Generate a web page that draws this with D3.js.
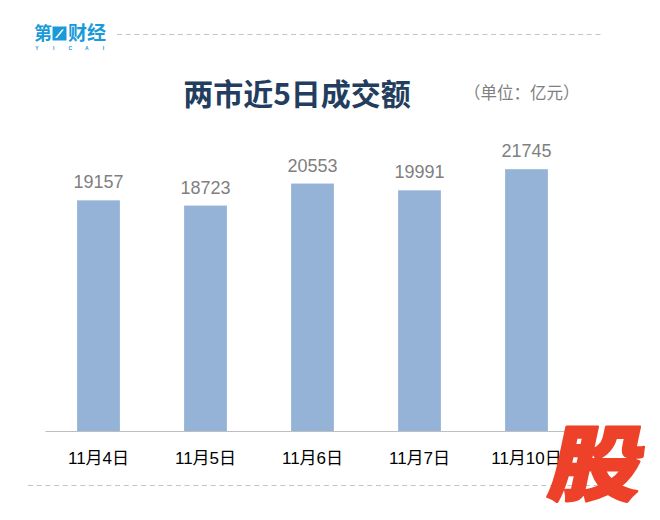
<!DOCTYPE html>
<html>
<head>
<meta charset="utf-8">
<script src="https://cdn.jsdelivr.net/npm/d3@7"></script>
<style>
  html, body { margin: 0; padding: 0; background: #fff; }
  svg { display: block; }
</style>
</head>
<body>
<div id="chart"></div>
<script>
const width = 660;
const height = 520;

// data
const dates = ["11月4日", "11月5日", "11月6日", "11月7日", "11月10日"];
const turnover = [19157, 18723, 20553, 19991, 21745];

const title = "两市近5日成交额";
const unit = "（单位：亿元）";

const svg = d3.select("#chart").append("svg")
    .attr("xmlns", "http://www.w3.org/2000/svg")
    .attr("width", width)
    .attr("height", height);

const cjk = "'Noto Sans CJK SC', 'Noto Sans', sans-serif";
const latin = "'Liberation Sans', Arial, 'Noto Sans CJK SC', sans-serif";

// scales
const x = d3.scaleBand()
    .domain(dates)
    .range([45, 580])
    .paddingInner(0.6)
    .paddingOuter(0.3);

const y = d3.scaleLinear()
    .domain([0, 25000])
    .range([431, 130]);

// dashed rules top and bottom
svg.append("line")
    .attr("x1", 117).attr("x2", 602)
    .attr("y1", 34.5).attr("y2", 34.5)
    .attr("stroke", "#c4c4c4")
    .attr("stroke-dasharray", "5,3.7");

svg.append("line")
    .attr("x1", 28).attr("x2", 602)
    .attr("y1", 485.5).attr("y2", 485.5)
    .attr("stroke", "#c4c4c4")
    .attr("stroke-dasharray", "5,3.7");

// logo
const logo = svg.append("g").attr("fill", "#1a9ad9");
logo.append("text")
    .attr("x", 34).attr("y", 39.5)
    .attr("font-family", cjk).attr("font-weight", 700).attr("font-size", 18)
    .text("第");
logo.append("rect")
    .attr("x", 52.5).attr("y", 26.5).attr("width", 14).attr("height", 14);
logo.append("path")
    .attr("fill", "#fff")
    .attr("d", "M62,29.5 L64,29.5 L57,38 L55,38 Z");
logo.append("text")
    .attr("x", 68).attr("y", 39.5)
    .attr("font-family", cjk).attr("font-weight", 700).attr("font-size", 19)
    .text("财经");
logo.selectAll(".yc")
    .data(["Y", "I", "C", "A", "I"])
    .enter().append("text")
    .attr("x", (d, i) => 37 + i * 16.6)
    .attr("y", 49.5)
    .attr("text-anchor", "middle")
    .attr("font-family", latin).attr("font-weight", 700).attr("font-size", 5)
    .text(d => d);

// title and unit
svg.append("text")
    .attr("x", 297).attr("y", 92)
    .attr("text-anchor", "middle")
    .attr("dominant-baseline", "central")
    .attr("font-family", cjk).attr("font-weight", 700).attr("font-size", 30)
    .attr("fill", "#223d5e")
    .text(title);

svg.append("text")
    .attr("x", 464).attr("y", 91.5)
    .attr("dominant-baseline", "central")
    .attr("font-family", cjk).attr("font-size", 16.5)
    .attr("fill", "#7f7f7f")
    .text(unit);

// bars
svg.selectAll(".bar")
    .data(turnover)
    .enter().append("rect")
    .attr("class", "bar")
    .attr("x", (d, i) => x(dates[i]))
    .attr("width", x.bandwidth())
    .attr("y", d => y(d))
    .attr("height", d => y(0) - y(d))
    .attr("fill", "#95b3d7");

// value labels
svg.selectAll(".val")
    .data(turnover)
    .enter().append("text")
    .attr("class", "val")
    .attr("x", (d, i) => x(dates[i]) + x.bandwidth() / 2)
    .attr("y", d => y(d) - 12)
    .attr("text-anchor", "middle")
    .attr("font-family", latin).attr("font-size", 18)
    .attr("fill", "#7f7f7f")
    .text(d => d);

// x axis
const xAxis = svg.append("g")
    .attr("transform", "translate(0," + y(0) + ")")
    .call(d3.axisBottom(x).tickSize(0).tickPadding(0).tickSizeOuter(0));
xAxis.select(".domain").attr("stroke", "#bfbfbf");
xAxis.selectAll(".tick text")
    .attr("y", 27)
    .attr("dy", null)
    .attr("dominant-baseline", "central")
    .attr("font-family", latin)
    .attr("font-size", 17)
    .attr("fill", "#000");

// stamp bottom right
svg.append("text")
    .attr("transform", "translate(592,494) skewX(-12) scale(1.12,1)")
    .attr("text-anchor", "middle")
    .attr("font-family", cjk).attr("font-weight", 900).attr("font-size", 82)
    .attr("fill", "#ee4129")
    .attr("stroke", "#ee4129").attr("stroke-width", 2.5)
    .attr("stroke-linejoin", "round")
    .text("股");
</script>
</body>
</html>
